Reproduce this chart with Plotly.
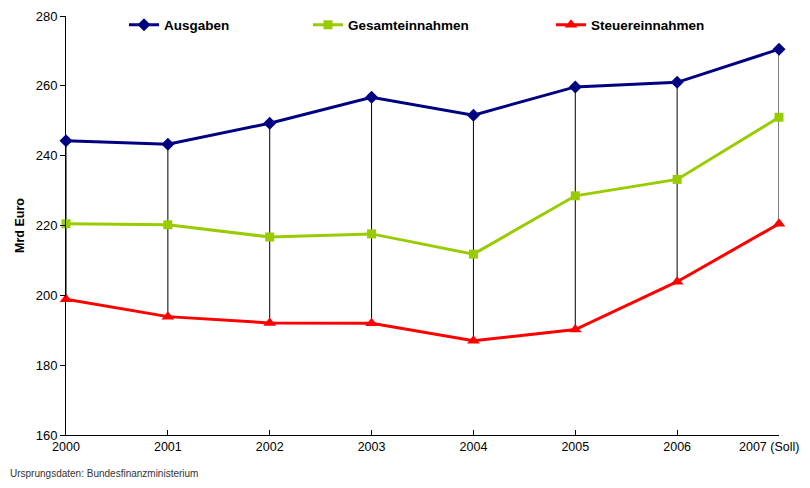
import plotly.graph_objects as go

years = ["2000", "2001", "2002", "2003", "2004", "2005", "2006", "2007 (Soll)"]
ausgaben = [244.3, 243.3, 249.3, 256.7, 251.6, 259.7, 261.0, 270.5]
gesamteinnahmen = [220.5, 220.2, 216.7, 217.6, 211.8, 228.5, 233.2, 251.0]
steuereinnahmen = [198.9, 193.9, 192.1, 192.0, 187.0, 190.2, 203.9, 220.5]

xs = list(range(len(years)))

fig = go.Figure()

# high-low drop lines
dx, dy = [], []
for i in xs:
    dx += [i, i, None]
    dy += [ausgaben[i], steuereinnahmen[i], None]
fig.add_trace(go.Scatter(x=dx, y=dy, mode="lines", line=dict(color="black", width=1),
                         showlegend=False, hoverinfo="skip"))

fig.add_trace(go.Scatter(x=xs, y=ausgaben, name="Ausgaben", mode="lines+markers",
                         line=dict(color="#000080", width=3),
                         marker=dict(symbol="diamond", size=10, color="#000080"),
                         legend="legend", cliponaxis=False))
fig.add_trace(go.Scatter(x=xs, y=gesamteinnahmen, name="Gesamteinnahmen", mode="lines+markers",
                         line=dict(color="#99CC00", width=3),
                         marker=dict(symbol="square", size=9, color="#99CC00"),
                         legend="legend2", cliponaxis=False))
fig.add_trace(go.Scatter(x=xs, y=steuereinnahmen, name="Steuereinnahmen", mode="lines+markers",
                         line=dict(color="#FF0000", width=3),
                         marker=dict(symbol="triangle-up", size=11, color="#FF0000"),
                         legend="legend3", cliponaxis=False))

# page body has an 8px margin; figure sized so the plot lands at window pixels
OFF = 8
W, H = 810 - OFF, 488 - 2 * OFF
PX0, PX1, PY0, PY1 = 66, 779, 16, 435   # plot area in window pixels
ml, mt = PX0 - OFF, PY0 - OFF
mr = W - ml - (PX1 - PX0)
mb = H - mt - (PY1 - PY0)
pw, ph = PX1 - PX0, PY1 - PY0
def lx(px):
    return (px - PX0) / pw
def ly(py):
    return 1 - (py - PY0) / ph

legfont = dict(family="Liberation Sans, Arial, sans-serif", size=13.5, color="black", weight="bold")
legcommon = dict(orientation="h", yanchor="middle", y=ly(25), xanchor="left",
                 font=legfont, bgcolor="rgba(0,0,0,0)", borderwidth=0)

# last category label is drawn at its axis position, nudged left so it stays visible
ticktext = years[:-1] + [""]

fig.update_layout(
    width=W, height=H,
    margin=dict(l=ml, r=mr, t=mt, b=mb, autoexpand=False),
    paper_bgcolor="white", plot_bgcolor="white",
    font=dict(family="Liberation Sans, Arial, sans-serif", size=13, color="black"),
    legend=dict(x=lx(124), **legcommon),
    legend2=dict(x=lx(308), **legcommon),
    legend3=dict(x=lx(551), **legcommon),
    xaxis=dict(range=[0, 7], tickvals=xs, ticktext=ticktext, showgrid=False, zeroline=False,
               showline=True, linecolor="black", linewidth=1, ticks="inside", ticklen=5,
               tickcolor="black", tickfont=dict(size=12.5), automargin=False,
               ticklabeloverflow="allow"),
    yaxis=dict(range=[160, 280], dtick=20, showgrid=False, zeroline=False,
               showline=True, linecolor="black", linewidth=1, ticks="outside", ticklen=5,
               tickcolor="black", tickfont=dict(size=13), automargin=False,
               title=dict(text="Mrd Euro", font=dict(size=12.5, weight="bold"), standoff=8)),
    annotations=[
        dict(text="Ursprungsdaten: Bundesfinanzministerium", xref="paper", yref="paper",
             x=lx(8), y=ly(OFF + H),
             xanchor="left", yanchor="bottom", showarrow=False, yshift=-1,
             font=dict(size=10, color="#333333")),
        dict(text=years[-1], xref="x", yref="paper", x=xs[-1], y=0,
             xanchor="right", yanchor="middle", xshift=22, yshift=-12, showarrow=False,
             font=dict(size=12.5, color="black")),
    ],
)

fig.write_html("out.html")
